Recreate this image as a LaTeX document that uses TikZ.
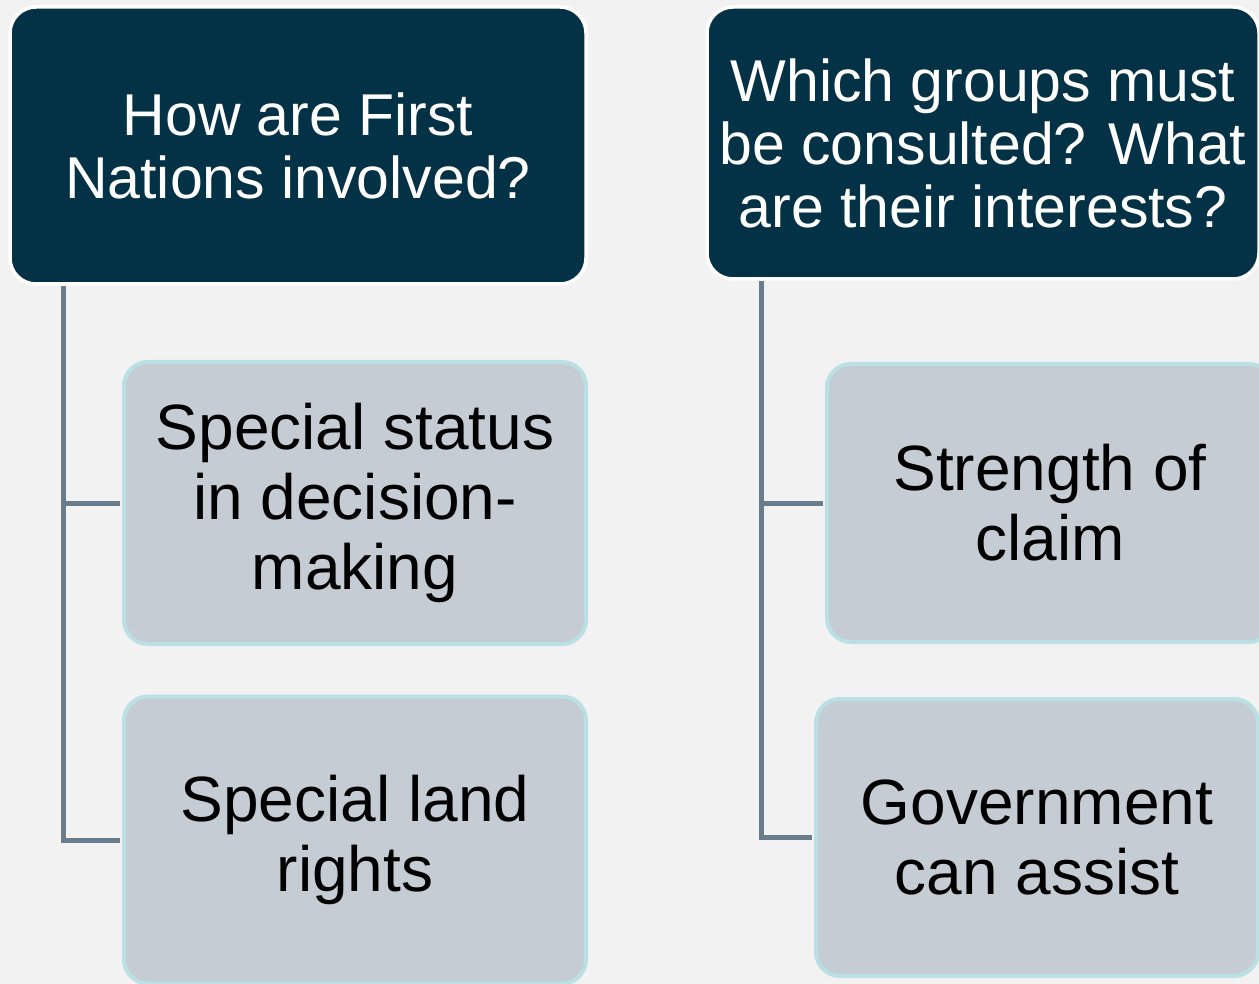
\documentclass[tikz,border=0pt]{standalone}
\usepackage{fontspec}
\setmainfont{Liberation Sans}
\definecolor{bg}{HTML}{F2F2F2}
\definecolor{dark}{HTML}{033145}
\definecolor{childfill}{HTML}{C5CCD3}
\definecolor{childedge}{HTML}{BAE0E4}
\definecolor{conn}{HTML}{6A7D8C}
\tikzset{
  parentbox/.style={draw=white, line width=3.5pt, fill=dark, rounded corners=26pt,
    text=white, align=center, inner sep=0pt,
    font=\fontsize{59}{63}\selectfont},
  childbox/.style={draw=childedge, line width=4pt, fill=childfill, rounded corners=24pt,
    text=black, align=center, inner sep=0pt,
    font=\fontsize{64}{70}\selectfont},
  connector/.style={draw=conn, line width=5pt}
}
\begin{document}
\begin{tikzpicture}[x=1pt,y=-1pt]
\fill[bg] (0,0) rectangle (1259,984);
\useasboundingbox (0,0) rectangle (1259,984);
\coordinate (lx) at (63,0);
\coordinate (rx) at (761,0);
\node[parentbox, minimum width=576pt, minimum height=277pt] (lp) at (298,145.5) {How are First\\Nations involved?};
\node[parentbox, minimum width=552pt, minimum height=272pt] (rp) at (983,143) {Which groups must\\be consulted? What\\are their interests?};
\node[childbox, minimum width=462pt, minimum height=282pt] (lc1) at (355,503) {Special status\\in decision-\\making};
\node[childbox, minimum width=462pt, minimum height=287pt] (lc2) at (355,840) {Special land\\rights};
\node[childbox, minimum width=446pt, minimum height=278pt] (rc1) at (1050,503) {Strength of\\claim};
\node[childbox, minimum width=442pt, minimum height=277pt] (rc2) at (1037,837.5) {Government\\can assist};
\draw[connector, shorten >=2pt] (lx |- lp.south) |- (lc2.west);
\draw[connector, shorten >=2pt] (lx |- lc1.west) -- (lc1.west);
\draw[connector, shorten >=2pt] (rx |- rp.south) |- (rc2.west);
\draw[connector, shorten >=2pt] (rx |- rc1.west) -- (rc1.west);
\end{tikzpicture}
\end{document}
